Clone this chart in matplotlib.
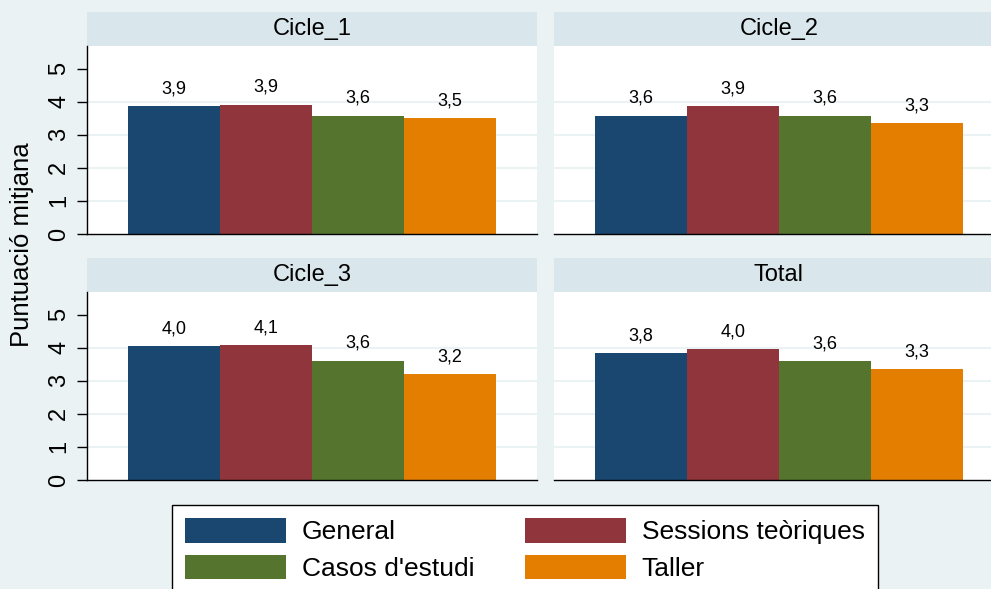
import matplotlib
matplotlib.use("Agg")
import matplotlib.pyplot as plt
from matplotlib.patches import Rectangle, Patch

plt.rcParams['font.family'] = ['Liberation Sans', 'DejaVu Sans']

# data
panels = ['Cicle_1', 'Cicle_2', 'Cicle_3', 'Total']
categories = ['General', 'Sessions teòriques', "Casos d'estudi", 'Taller']
cicle_1 = [3.87, 3.91, 3.58, 3.49]
cicle_2 = [3.58, 3.87, 3.58, 3.34]
cicle_3 = [4.04, 4.08, 3.61, 3.20]
total = [3.84, 3.96, 3.59, 3.34]
yticks = [0, 1, 2, 3, 4, 5]

series = [cicle_1, cicle_2, cicle_3, total]
colors = ['#1a476f', '#90353b', '#55752f', '#e37e00']
bg = '#eaf2f3'
strip_col = '#d9e6eb'

W, H = 991, 589
fig = plt.figure(figsize=(W / 100, H / 100), dpi=100, facecolor=bg)

# panel rectangles in pixels: left, bottom of plot
pw, ph = 450, 188
lefts = [87, 554, 87, 554]
bottoms = [234, 234, 480, 480]

for i, (name, vals) in enumerate(zip(panels, series)):
    ax = fig.add_axes([lefts[i] / W, 1 - bottoms[i] / H, pw / W, ph / H])
    ax.set_facecolor('white')
    ax.set_xlim(-0.95, 3.95)
    ax.set_ylim(0, 5.68)
    for y in yticks[1:-1]:
        ax.axhline(y, color=bg, lw=1.5, zorder=0)
    x = range(len(vals))
    ax.bar(x, vals, width=1.0, color=colors, zorder=2)
    for xi, v in zip(x, vals):
        ax.annotate(f"{v:.1f}".replace('.', ','), (xi, v), xytext=(0, 12.5),
                    textcoords='offset points', ha='center', va='center', fontsize=13)
    for s in ['top', 'right']:
        ax.spines[s].set_visible(False)
    ax.spines['bottom'].set_linewidth(1.0)
    ax.set_xticks([])
    ax.set_yticks(yticks)
    if i % 2 == 0:
        ax.spines['left'].set_linewidth(1.0)
        ax.tick_params(axis='y', length=7, width=1.0, pad=5, labelsize=17,
                       labelrotation=90)
        for lab in ax.get_yticklabels():
            lab.set_va('center')
    else:
        ax.spines['left'].set_visible(False)
        ax.tick_params(axis='y', length=0, labelleft=False)
    # strip title
    sh = 34 / ph
    ax.add_patch(Rectangle((0, 1), 1, sh, transform=ax.transAxes, facecolor=strip_col,
                           edgecolor='none', clip_on=False))
    ax.text(0.5, 1 + sh / 2, name, transform=ax.transAxes, ha='center', va='center',
            fontsize=17)

fig.text(22 / W, 1 - 245 / H, 'Puntuació mitjana', rotation=90, ha='center',
         va='center', fontsize=18.5)

# legend filled row by row, as in the original
order = [0, 2, 1, 3]
handles = [Patch(facecolor=colors[k], edgecolor='none') for k in order]
labels = [categories[k] for k in order]
leg = fig.legend(handles, labels, ncol=2, loc='upper left',
                 bbox_to_anchor=(172 / W, 1 - 505 / H), fontsize=19,
                 frameon=True, fancybox=False, edgecolor='black', framealpha=1,
                 handlelength=3.83, handleheight=1.05, handletextpad=0.6,
                 columnspacing=1.9, labelspacing=0.4, borderpad=0.5,
                 borderaxespad=0)
leg.get_frame().set_linewidth(1.0)

fig.savefig('out.png', dpi=100, facecolor=bg)
